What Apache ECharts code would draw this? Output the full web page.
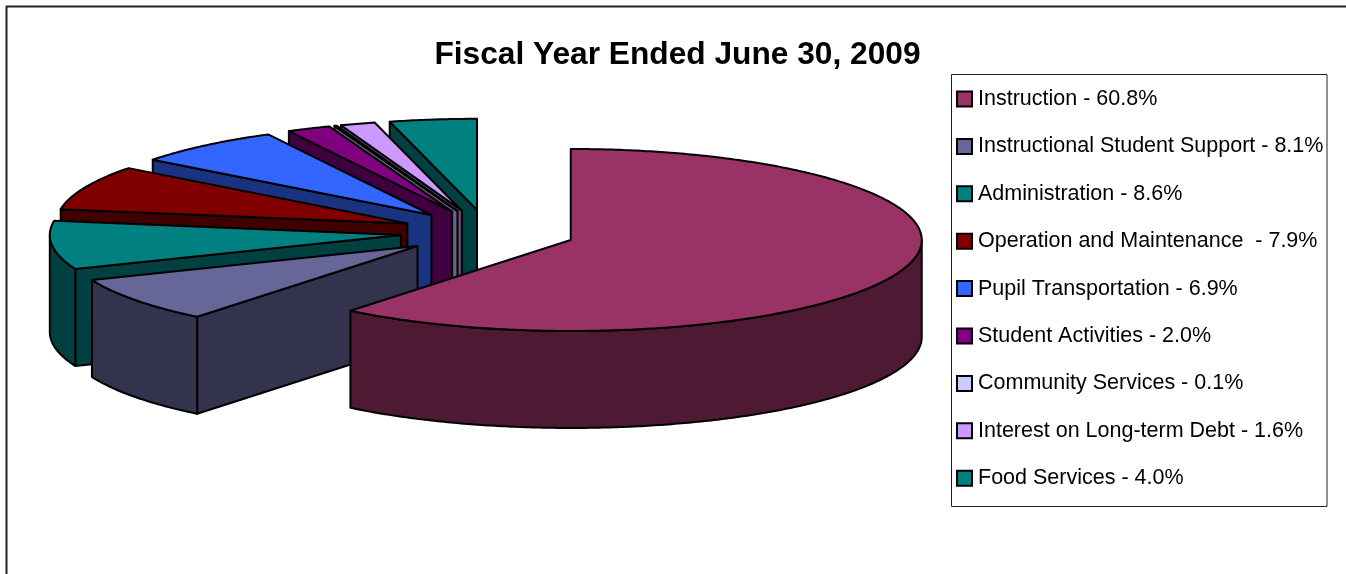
<!DOCTYPE html>
<html>
<head>
<meta charset="utf-8">
<style>html,body{margin:0;padding:0;background:#fff}#chart{width:1346px;height:574px}</style>
<script src="https://cdn.jsdelivr.net/npm/echarts@6/dist/echarts.min.js"></script>
</head>
<body>
<div id="chart"></div>
<script>
// Spending by function, percent of total
const categories = ['Instruction', 'Instructional Student Support', 'Administration', 'Operation and Maintenance ', 'Pupil Transportation', 'Student Activities', 'Community Services', 'Interest on Long-term Debt', 'Food Services'];
const shares = [60.8, 8.1, 8.6, 7.9, 6.9, 2.0, 0.1, 1.6, 4.0];
const topColors = ['#993366', '#666699', '#008080', '#800000', '#3366FF', '#800080', '#CCCCFF', '#CC99FF', '#008080'];
const wallColors = ['#4D1933', '#33334D', '#004040', '#400000', '#1A3380', '#400040', '#666680', '#664D80', '#004040'];
const labels = categories.map((c, i) => c + ' - ' + shares[i].toFixed(1) + '%');

// Tilted-disc projection: angles run clockwise from 12 o'clock
const disc = { cx: 488, cy: 232.4, rx: 351, ry: 91, depth: 97, explode: 0.25 };
const total = shares.reduce((a, b) => a + b, 0);
const starts = [];
shares.reduce((acc, v, i) => { starts[i] = acc; return acc + v; }, 0);

function sliceShapes(i) {
  const a0 = starts[i] / total * 2 * Math.PI;
  const a1 = (starts[i] + shares[i]) / total * 2 * Math.PI;
  const mid = (a0 + a1) / 2;
  const ox = disc.cx + disc.explode * disc.rx * Math.sin(mid);
  const oy = disc.cy - disc.explode * disc.ry * Math.cos(mid);
  const rim = t => [ox + disc.rx * Math.sin(t), oy - disc.ry * Math.cos(t)];
  const drop = p => [p[0], p[1] + disc.depth];
  const arc = (from, to) => {
    const n = Math.max(2, Math.ceil((to - from) / 0.01));
    const pts = [];
    for (let k = 0; k <= n; k++) pts.push(rim(from + (to - from) * k / n));
    return pts;
  };
  const apex = [ox, oy];
  const style = fill => ({ fill, stroke: '#000', lineWidth: 2, lineJoin: 'round' });
  const poly = (points, fill) => ({ type: 'polygon', shape: { points }, style: style(fill), silent: true });
  const children = [];
  // A radial cut face shows only when it turns toward the viewer
  const faces = [];
  if (Math.sin(a0) < -1e-9) faces.push(a0);
  if (Math.sin(a1) > 1e-9) faces.push(a1);
  faces.forEach(t => {
    const p = rim(t);
    children.push(poly([apex, p, drop(p), drop(apex)], wallColors[i]));
  });
  // Only the part of the rim on the near half of the disc is visible
  const f0 = Math.max(a0, Math.PI / 2), f1 = Math.min(a1, 1.5 * Math.PI);
  if (f1 > f0) {
    const upper = arc(f0, f1);
    children.push(poly(upper.concat(upper.map(drop).reverse()), wallColors[i]));
  }
  children.push(poly([apex].concat(arc(a0, a1)), topColors[i]));
  return { type: 'group', children };
}

// Back slices are painted first so the nearer ones overlap them
const series = shares.map((v, i) => ({
  type: 'custom',
  name: labels[i],
  coordinateSystem: 'none',
  itemStyle: { color: topColors[i] },
  data: [v],
  renderItem: () => sliceShapes(i)
})).reverse();

const chart = echarts.init(document.getElementById('chart'), null, { renderer: 'canvas' });
chart.setOption({
  animation: false,
  backgroundColor: '#fff',
  title: {
    text: 'Fiscal Year Ended June 30, 2009',
    left: 677.5, top: 39, padding: 0, textAlign: 'center',
    textStyle: { fontFamily: 'Liberation Sans', fontSize: 31.7, fontWeight: 'bold', color: '#000' }
  },
  legend: {
    orient: 'vertical',
    left: 956, top: 88, padding: 0,
    selectedMode: false,
    itemWidth: 15, itemHeight: 15, itemGap: 25.4,
    textStyle: { fontFamily: 'Liberation Sans', fontSize: 21.5, color: '#000', padding: [0, 0, 0, 1] },
    data: labels.map((name, i) => ({
      name, icon: 'rect',
      itemStyle: { color: topColors[i], borderColor: '#000', borderWidth: 2 }
    }))
  },
  graphic: [
    { type: 'line', silent: true, shape: { x1: 6, y1: 6.5, x2: 1346, y2: 6.5 }, style: { stroke: '#222', lineWidth: 2 } },
    { type: 'line', silent: true, shape: { x1: 6.5, y1: 6, x2: 6.5, y2: 574 }, style: { stroke: '#222', lineWidth: 2 } },
    { type: 'rect', silent: true, z: -1, shape: { x: 951.5, y: 74.5, width: 375.5, height: 432 }, style: { fill: '#fff', stroke: '#222', lineWidth: 1 } }
  ],
  series
});
</script>
</body>
</html>
